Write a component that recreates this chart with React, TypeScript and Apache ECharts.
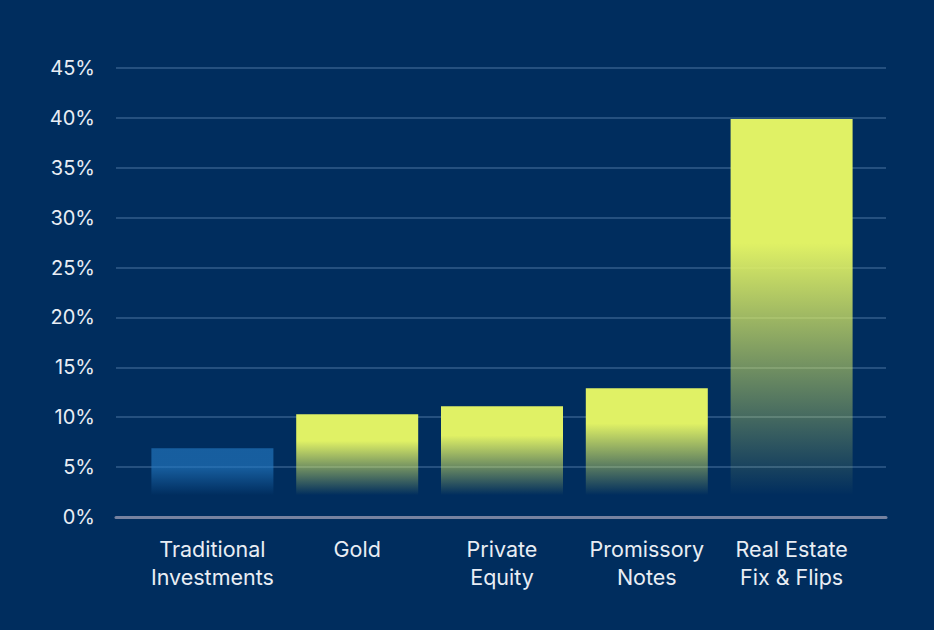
import React, { useEffect, useRef } from "react";
import * as echarts from "echarts";

const categories = ["Traditional\nInvestments", "Gold", "Private\nEquity", "Promissory\nNotes", "Real Estate\nFix & Flips"];
const values = [6.9, 10.3, 11.1, 12.9, 39.9];
const yTicks = [0, 5, 10, 15, 20, 25, 30, 35, 40, 45];
const fadeBase = 2.2; // value below which the bar gradient is fully transparent

const BG = "#002d5e";
const YELLOW = "rgba(224,241,101,1)";
const YELLOW_T = "rgba(224,241,101,0)";
const BLUE = "rgba(36,122,196,0.64)";
const BLUE_T = "rgba(36,122,196,0)";

function barColor(v: number, i: number) {
  const visibleEnd = (v - fadeBase) / v;
  const top = i === 0 ? BLUE : YELLOW;
  const bottom = i === 0 ? BLUE_T : YELLOW_T;
  const solid = i === 0 ? visibleEnd * 0.4 : visibleEnd * 0.33;
  return new echarts.graphic.LinearGradient(0, 0, 0, 1, [
    { offset: 0, color: top },
    { offset: solid, color: top },
    { offset: visibleEnd, color: bottom },
    { offset: 1, color: bottom },
  ]);
}

export default function App() {
  const ref = useRef<HTMLDivElement>(null);
  useEffect(() => {
    if (!ref.current) return;
    const chart = echarts.init(ref.current, undefined, { renderer: "svg" });
    const font = "Inter, 'Noto Sans', sans-serif";
    chart.setOption({
      animation: false,
      backgroundColor: BG,
      grid: [
        { left: 116, right: 48, top: 68, bottom: 113 },
        { left: 140, right: 70, top: 68, bottom: 113 },
      ],
      xAxis: [
        {
          gridIndex: 0,
          type: "category",
          data: ["a"],
          axisLine: { show: true, lineStyle: { color: "#7682a0", width: 3 } },
          axisTick: { show: false },
          axisLabel: { show: false },
          splitLine: { show: false },
          z: 5,
        },
        {
          gridIndex: 1,
          type: "category",
          data: categories,
          axisLine: { show: false },
          axisTick: { show: false },
          axisLabel: {
            color: "#e9edf4",
            fontSize: 21.5,
            lineHeight: 28,
            fontFamily: font,
            margin: 18,
            interval: 0,
          },
        },
      ],
      yAxis: [
        {
          gridIndex: 0,
          type: "value",
          min: 0,
          max: 45,
          interval: 5,
          axisLine: { show: false },
          axisTick: { show: false },
          axisLabel: {
            color: "#e9edf4",
            fontSize: 20,
            fontFamily: font,
            margin: 21,
            formatter: (v: number) => (yTicks.includes(v) ? v + "%" : ""),
          },
          splitLine: { show: true, lineStyle: { color: "rgba(120,160,200,0.42)", width: 1.5 } },
        },
        {
          gridIndex: 1,
          type: "value",
          min: 0,
          max: 45,
          interval: 5,
          show: false,
          splitLine: { show: false },
        },
      ],
      series: [
        {
          type: "bar",
          xAxisIndex: 1,
          yAxisIndex: 1,
          barWidth: 122,
          data: values.map((v, i) => ({
            value: v,
            itemStyle: { color: barColor(v, i) },
          })),
        },
      ],
    });
    return () => chart.dispose();
  }, []);
  return (
    <div
      ref={ref}
      style={{ position: "fixed", left: 0, top: 0, width: 934, height: 630, background: BG }}
    />
  );
}
